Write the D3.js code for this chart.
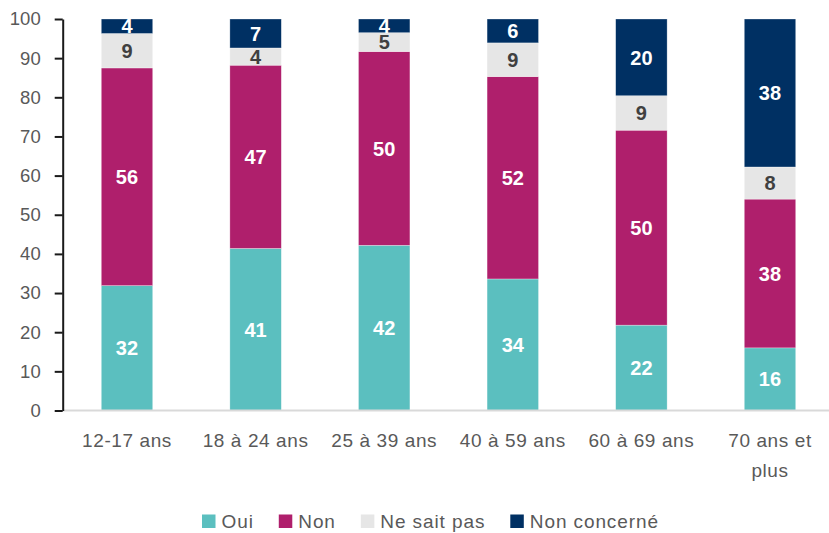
<!DOCTYPE html>
<html>
<head>
<meta charset="utf-8">
<script src="https://cdn.jsdelivr.net/npm/d3@7"></script>
<style>
  html, body { margin: 0; padding: 0; background: #fff; }
  svg text { font-family: Arial, "Liberation Sans", sans-serif; }
</style>
</head>
<body>
<div id="chart"></div>
<script>
// Age groups (second line of label after "|")
const categories = ['12-17 ans', '18 à 24 ans', '25 à 39 ans', '40 à 59 ans', '60 à 69 ans', '70 ans et|plus'];
const seriesNames = ['Oui', 'Non', 'Ne sait pas', 'Non concerné'];
const oui = [31.9, 41.4, 42.2, 33.6, 21.8, 16.0];
const non = [55.6, 46.8, 49.5, 51.7, 49.8, 38.0];
const nsp = [8.8, 4.4, 4.8, 8.6, 8.8, 8.2];
const nonConcerne = [3.7, 7.4, 3.5, 6.1, 19.6, 37.8];
const yTicks = [0, 10, 20, 30, 40, 50, 60, 70, 80, 90, 100];

const colors = {
  'Oui': '#5bbfbf',
  'Non': '#af1f6c',
  'Ne sait pas': '#e6e6e6',
  'Non concerné': '#003063'
};
const labelColors = {
  'Oui': '#ffffff',
  'Non': '#ffffff',
  'Ne sait pas': '#404040',
  'Non concerné': '#ffffff'
};

const FONT = 'Arial, "Liberation Sans", sans-serif';

const width = 829;
const height = 533;
const margin = { top: 19, right: -5.3, bottom: 122.5, left: 62.7 };
const innerWidth = width - margin.left - margin.right;
const innerHeight = height - margin.top - margin.bottom;

// Build rows for the stack
const rows = categories.map((c, i) => ({
  cat: c,
  'Oui': oui[i],
  'Non': non[i],
  'Ne sait pas': nsp[i],
  'Non concerné': nonConcerne[i]
}));

const stack = d3.stack().keys(seriesNames)(rows);

const svg = d3.select('#chart')
  .append('svg')
  .attr('width', width)
  .attr('height', height);

const g = svg.append('g')
  .attr('transform', `translate(${margin.left},${margin.top})`);

// Scales
const x = d3.scaleBand()
  .domain(categories)
  .range([0, innerWidth])
  .paddingInner(0.6)
  .paddingOuter(0.3);

const y = d3.scaleLinear()
  .domain([0, 100])
  .range([innerHeight, 0]);

// Bars
const layers = g.selectAll('.layer')
  .data(stack)
  .enter()
  .append('g')
  .attr('class', 'layer')
  .attr('fill', d => colors[d.key]);

layers.selectAll('rect')
  .data(d => d)
  .enter()
  .append('rect')
  .attr('x', d => x(d.data.cat))
  .attr('y', d => y(d[1]))
  .attr('width', x.bandwidth())
  .attr('height', d => y(d[0]) - y(d[1]))
  .attr('stroke', '#ffffff')
  .attr('stroke-opacity', 0.5)
  .attr('stroke-width', 0.6);

// Value labels
stack.forEach(layer => {
  g.selectAll(null)
    .data(layer)
    .enter()
    .append('text')
    .attr('x', d => x(d.data.cat) + x.bandwidth() / 2)
    .attr('y', d => (y(d[0]) + y(d[1])) / 2)
    .attr('dy', '0.36em')
    .attr('text-anchor', 'middle')
    .attr('fill', labelColors[layer.key])
    .style('font-family', FONT)
    .style('font-size', '20px')
    .style('font-weight', 'bold')
    .text(d => Math.round(d[1] - d[0]));
});

// Baseline (gray)
g.append('line')
  .attr('x1', 0)
  .attr('x2', innerWidth)
  .attr('y1', y(0))
  .attr('y2', y(0))
  .attr('stroke', '#d9d9d9')
  .attr('stroke-width', 2);

// Y Axis
const yAxis = g.append('g')
  .call(d3.axisLeft(y).tickValues(yTicks).tickSize(8).tickPadding(14).tickSizeOuter(0));

yAxis.select('.domain')
  .attr('stroke', '#1a1a1a')
  .attr('stroke-width', 2);

yAxis.selectAll('line')
  .attr('stroke', '#1a1a1a')
  .attr('stroke-width', 2);

yAxis.selectAll('text')
  .attr('fill', '#595959')
  .style('font-family', FONT)
  .style('font-size', '18.5px');

// X labels (possibly two lines)
const xLabels = g.selectAll('.x-label')
  .data(categories)
  .enter()
  .append('text')
  .attr('class', 'x-label')
  .attr('text-anchor', 'middle')
  .attr('fill', '#595959')
  .style('font-family', FONT)
  .style('font-size', '19px')
  .style('letter-spacing', '0.6px')
  .attr('transform', d => `translate(${x(d) + x.bandwidth() / 2},${innerHeight + 36})`);

xLabels.selectAll('tspan')
  .data(d => d.split('|'))
  .enter()
  .append('tspan')
  .attr('x', 0)
  .attr('y', (d, i) => i * 30)
  .text(d => d);

// Legend
const legend = svg.append('g')
  .attr('transform', 'translate(202,528)');

let lx = 0;
seriesNames.forEach(name => {
  legend.append('rect')
    .attr('x', lx)
    .attr('y', -13.5)
    .attr('width', 13.5)
    .attr('height', 13.5)
    .attr('fill', colors[name]);

  const t = legend.append('text')
    .attr('x', lx + 19.5)
    .attr('y', 0)
    .attr('fill', '#595959')
    .style('font-family', FONT)
    .style('font-size', '19px')
    .style('letter-spacing', '0.9px')
    .text(name);

  lx += 19.5 + t.node().getComputedTextLength() + 25;
});
</script>
</body>
</html>
